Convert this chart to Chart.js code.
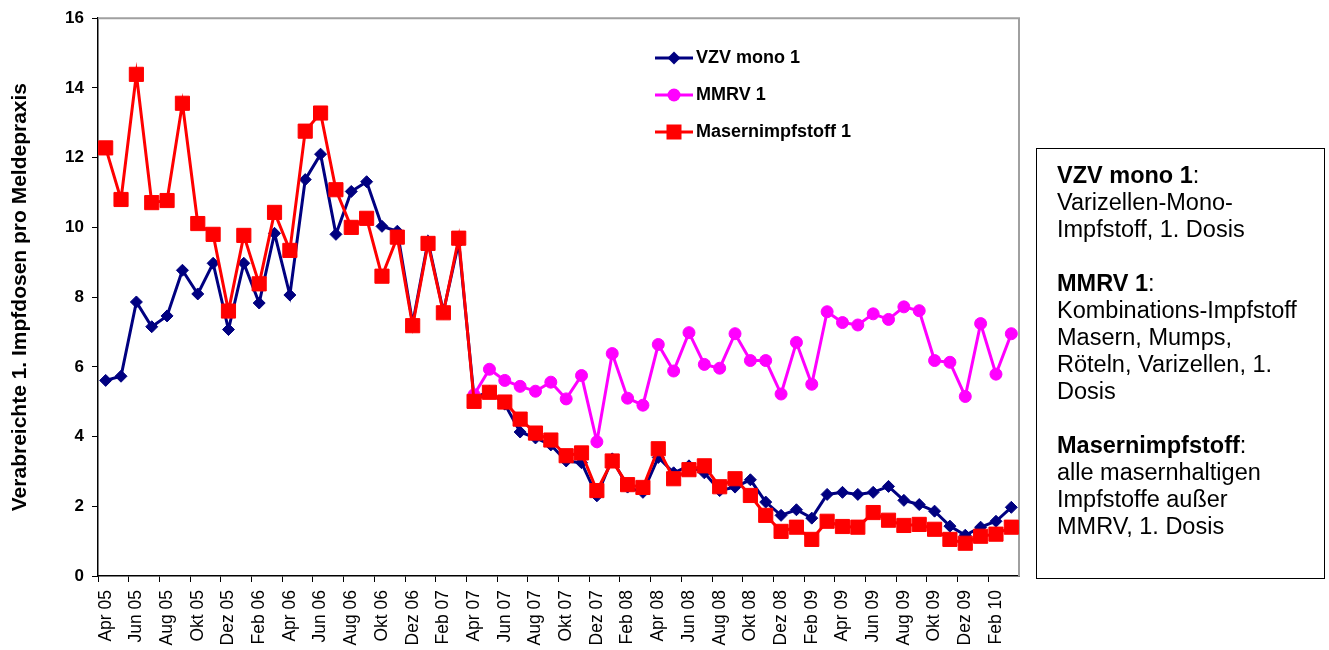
<!DOCTYPE html>
<html lang="de">
<head>
<meta charset="utf-8">
<title>Verabreichte 1. Impfdosen pro Meldepraxis</title>
<script src="https://cdn.jsdelivr.net/npm/chart.js@4/dist/chart.umd.min.js"></script>
<style>
  html, body { margin: 0; padding: 0; background: #fff; }
  body { width: 1329px; height: 650px; position: relative; overflow: hidden;
         font-family: "Liberation Sans", Arial, sans-serif; color: #000; }
  #grafico { position: absolute; left: 0; top: 0; }
  #leyenda { position: absolute; left: 655px; top: 39px; }
  .item { display: flex; align-items: center; height: 37px; font-weight: bold; font-size: 18px; }
  .item svg { margin-right: 3px; }
  #info { position: absolute; left: 1036px; top: 148px; width: 289px; height: 431px;
          border: 1px solid #000; box-sizing: border-box; padding: 13px 0 0 20px;
          font-size: 23.5px; line-height: 27px; }
  #info p { margin: 0 0 27px 0; }
</style>
</head>
<body>
<canvas id="grafico" width="1329" height="650"></canvas>
<div id="leyenda"></div>
<div id="info">
  <p><b>VZV mono 1</b>:<br>Varizellen-Mono-<br>Impfstoff, 1. Dosis</p>
  <p><b>MMRV 1</b>:<br>Kombinations-Impfstoff<br>Masern, Mumps,<br>Röteln, Varizellen, 1.<br>Dosis</p>
  <p><b>Masernimpfstoff</b>:<br>alle masernhaltigen<br>Impfstoffe außer<br>MMRV, 1. Dosis</p>
</div>
<script>
// Monate Apr 05 – Mär 10 (nur jeder zweite wird beschriftet)
const monate = [
  "Apr 05", "Mai 05", "Jun 05", "Jul 05", "Aug 05", "Sep 05", "Okt 05", "Nov 05", "Dez 05",
  "Jan 06", "Feb 06", "Mär 06", "Apr 06", "Mai 06", "Jun 06", "Jul 06", "Aug 06", "Sep 06",
  "Okt 06", "Nov 06", "Dez 06", "Jan 07", "Feb 07", "Mär 07", "Apr 07", "Mai 07", "Jun 07",
  "Jul 07", "Aug 07", "Sep 07", "Okt 07", "Nov 07", "Dez 07", "Jan 08", "Feb 08", "Mär 08",
  "Apr 08", "Mai 08", "Jun 08", "Jul 08", "Aug 08", "Sep 08", "Okt 08", "Nov 08", "Dez 08",
  "Jan 09", "Feb 09", "Mär 09", "Apr 09", "Mai 09", "Jun 09", "Jul 09", "Aug 09", "Sep 09",
  "Okt 09", "Nov 09", "Dez 09", "Jan 10", "Feb 10", "Mär 10",
];

const vzvMono = [
  5.61, 5.73, 7.86, 7.15, 7.46, 8.77, 8.09, 8.97, 7.07, 8.97, 7.83, 9.83,
  8.06, 11.37, 12.1, 9.8, 11.03, 11.31, 10.03, 9.89, 7.24, 9.6, 7.58, 9.57,
  5.1, 5.3, 4.93, 4.13, 3.96, 3.76, 3.3, 3.25, 2.3, 3.36, 2.55, 2.4,
  3.4, 2.96, 3.16, 2.96, 2.45, 2.55, 2.76, 2.12, 1.74, 1.9, 1.66, 2.34,
  2.4, 2.34, 2.4, 2.57, 2.17, 2.05, 1.86, 1.43, 1.17, 1.4, 1.57, 1.97,
];

const mmrv = [
  null, null, null, null, null, null, null, null, null, null, null, null,
  null, null, null, null, null, null, null, null, null, null, null, null,
  5.2, 5.93, 5.61, 5.44, 5.3, 5.56, 5.08, 5.75, 3.85, 6.38, 5.1, 4.9,
  6.64, 5.88, 6.98, 6.07, 5.96, 6.95, 6.18, 6.18, 5.22, 6.7, 5.5, 7.58,
  7.27, 7.2, 7.52, 7.36, 7.72, 7.61, 6.18, 6.13, 5.15, 7.24, 5.79, 6.95,
];

const masern = [
  12.28, 10.8, 14.39, 10.71, 10.77, 13.56, 10.11, 9.8, 7.6, 9.77, 8.38, 10.43,
  9.34, 12.76, 13.28, 11.08, 10.0, 10.26, 8.6, 9.72, 7.18, 9.54, 7.55, 9.69,
  5.01, 5.27, 4.99, 4.5, 4.1, 3.9, 3.45, 3.53, 2.45, 3.3, 2.62, 2.54,
  3.65, 2.79, 3.05, 3.16, 2.56, 2.79, 2.31, 1.74, 1.28, 1.4, 1.05, 1.57,
  1.42, 1.4, 1.82, 1.6, 1.45, 1.48, 1.34, 1.05, 0.94, 1.14, 1.2, 1.4,
];

const yTicks = { min: 0, max: 16, step: 2 };

const serien = [
  { label: "VZV mono 1",        data: vzvMono, color: "#000080", punkt: "rectRot", r: 6,  order: 3 },
  { label: "MMRV 1",            data: mmrv,    color: "#ff00ff", punkt: "circle",  r: 6,  order: 2 },
  { label: "Masernimpfstoff 1", data: masern,  color: "#ff0000", punkt: "rect",    r: 10, order: 1 },
];

Chart.defaults.font.family = "'Liberation Sans', Arial, sans-serif";
Chart.defaults.color = "#000";

// graue Linie oben und rechts wie im Excel-Rahmen
const marco = {
  id: "marco",
  beforeDatasetsDraw(chart) {
    const { ctx, chartArea: a } = chart;
    ctx.save();
    ctx.strokeStyle = "#a0a0a0";
    ctx.lineWidth = 2;
    ctx.beginPath();
    ctx.moveTo(a.left, a.top);
    ctx.lineTo(a.right, a.top);
    ctx.lineTo(a.right, a.bottom);
    ctx.stroke();
    ctx.restore();
  },
};

function markerSvg(s) {
  const c = s.color;
  let m;
  if (s.punkt === "rectRot") m = `<polygon points="19,2.5 25.5,9 19,15.5 12.5,9" fill="${c}"/>`;
  else if (s.punkt === "circle") m = `<circle cx="19" cy="9" r="6.5" fill="${c}"/>`;
  else m = `<rect x="11.5" y="1.5" width="15" height="15" fill="${c}"/>`;
  return `<svg width="38" height="18"><line x1="0" y1="9" x2="38" y2="9" stroke="${c}" stroke-width="3"/>${m}</svg>`;
}

function renderLeyenda() {
  document.getElementById("leyenda").innerHTML = serien
    .map((s) => `<div class="item">${markerSvg(s)}<span>${s.label}</span></div>`).join("");
}

function dibujarGrafico() {
  const ctx = document.getElementById("grafico").getContext("2d");
  new Chart(ctx, {
    type: "line",
    data: {
      labels: monate,
      datasets: serien.map((s) => ({
        label: s.label,
        data: s.data,
        order: s.order,
        borderColor: s.color,
        backgroundColor: s.color,
        borderWidth: 3,
        tension: 0,
        pointStyle: s.punkt,
        pointRadius: s.r,
        pointBorderWidth: 1,
        pointBackgroundColor: s.color,
        pointBorderColor: s.color,
      })),
    },
    options: {
      responsive: false,
      animation: false,
      layout: { padding: { top: 14, right: 310, left: 4, bottom: 0 } },
      plugins: { legend: { display: false }, tooltip: { enabled: false } },
      scales: {
        x: {
          offset: true,
          grid: {
            offset: true,
            drawOnChartArea: false,
            tickLength: 6,
            color: (c) => (c.index % 2 === 0 ? "#000" : "rgba(0,0,0,0)"),
          },
          border: { color: "#000", width: 1.5 },
          ticks: {
            autoSkip: false,
            maxRotation: 90,
            minRotation: 90,
            padding: 8,
            font: { size: 17.5 },
            callback: function (v, i) { return i % 2 === 0 ? this.getLabelForValue(v) : ""; },
          },
          afterFit: (s) => { s.height = 74; },
        },
        y: {
          min: yTicks.min,
          max: yTicks.max,
          grid: { drawOnChartArea: false, tickLength: 6, color: "#000" },
          border: { color: "#000", width: 1.5 },
          ticks: { stepSize: yTicks.step, padding: 8, font: { size: 17, weight: "bold" } },
          title: {
            display: true,
            text: "Verabreichte 1. Impfdosen pro Meldepraxis",
            font: { size: 21, weight: "bold" },
            padding: { top: 4, bottom: 0 },
          },
          afterFit: (s) => { s.width = 94; },
        },
      },
    },
    plugins: [marco],
  });
}

renderLeyenda();
dibujarGrafico();
</script>
</body>
</html>
